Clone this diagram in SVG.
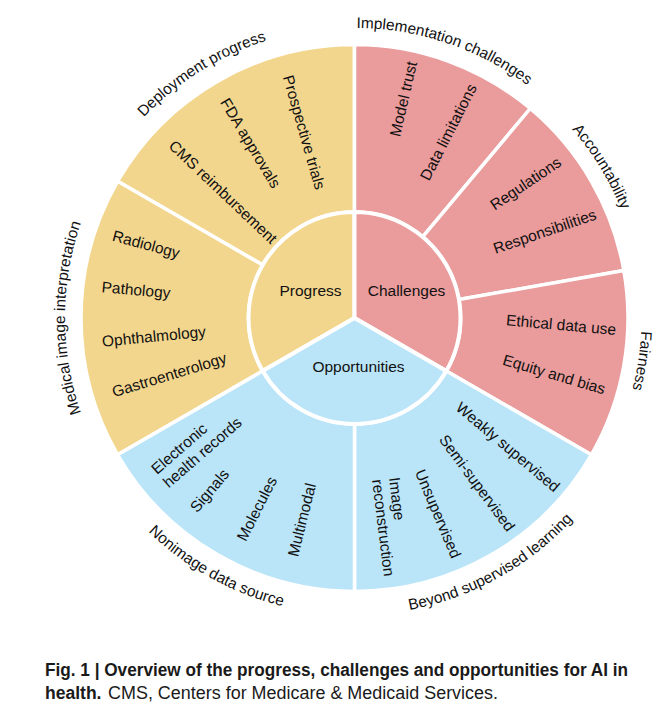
<svg xmlns="http://www.w3.org/2000/svg" width="668" height="714" viewBox="0 0 668 714">
<style>
.y{fill:#F3D68D}.p{fill:#EA9B9B}.b{fill:#BAE4F8}
.seg{stroke:#fff;stroke-width:3.5;stroke-linejoin:round}
.core{stroke:#fff;stroke-width:4;stroke-linejoin:round}
text{font-family:"Liberation Sans",Arial,sans-serif;fill:#111}
.it{font-size:15.5px;text-anchor:middle}
.it2{font-size:15.5px}
.ctr{font-size:15.5px;text-anchor:middle}
.lab{font-size:15.4px;text-anchor:middle}
.cap{font-size:17.5px;fill:#1a1a1a}
</style>
<defs>
<path id="aDep" d="M77.74,228.08 A291,291 0 0 1 395,29.83"/>
<path id="aImp" d="M248.21,48.18 A290,290 0 0 1 601.77,166.47"/>
<path id="aAcc" d="M445.88,44.88 A288,288 0 0 1 639.34,360.57"/>
<path id="aFai" d="M599.21,168.04 A287,287 0 0 1 544.67,532.95"/>
<path id="aMed" d="M132.73,504.09 A289.5,289.5 0 0 1 132.73,131.91"/>
<path id="aNon" d="M77.23,424.44 A297,297 0 0 0 411.17,609.54"/>
<path id="aBey" d="M297.83,609.54 A297,297 0 0 0 631.77,424.44"/>
</defs>
<rect width="668" height="714" fill="#fff"/>

<g id="deployment-progress">
<path class="seg y" d="M117.64,181.25 A273.5,273.5 0 0 1 354.5,44.5 L354.5,212 A106,106 0 0 0 262.7,265 Z"/>
<text class="lab"><textPath href="#aDep" startOffset="50%">Deployment progress</textPath></text>
<text class="it" dy=".3em" transform="translate(303.5,132.5) rotate(74)">Prospective trials</text>
<text class="it" dy=".3em" transform="translate(250,143.5) rotate(59)">FDA approvals</text>
<text class="it" dy=".3em" transform="translate(222.5,192.5) rotate(43.5)">CMS reimbursement</text>
</g>

<g id="medical-image-interpretation">
<path class="seg y" d="M117.64,454.75 A273.5,273.5 0 0 1 117.64,181.25 L262.7,265 A106,106 0 0 0 262.7,371 Z"/>
<text class="lab"><textPath href="#aMed" startOffset="50%">Medical image interpretation</textPath></text>
<text class="it" dy=".3em" transform="translate(146,245) rotate(15)">Radiology</text>
<text class="it" dy=".3em" transform="translate(136,290.5) rotate(5)">Pathology</text>
<text class="it" dy=".3em" transform="translate(154,337) rotate(-5.5)">Ophthalmology</text>
<text class="it" dy=".3em" transform="translate(169.5,375.5) rotate(-17)">Gastroenterology</text>
</g>

<g id="implementation-challenges">
<path class="seg p" d="M354.5,44.5 A273.5,273.5 0 0 1 530.3,108.5 L422.64,236.8 A106,106 0 0 0 354.5,212 Z"/>
<text class="lab"><textPath href="#aImp" startOffset="50%">Implementation challenges</textPath></text>
<text class="it" dy=".3em" transform="translate(404,99) rotate(-77)">Model trust</text>
<text class="it" dy=".3em" transform="translate(449,132.5) rotate(-63)">Data limitations</text>
</g>

<g id="accountability">
<path class="seg p" d="M530.3,108.5 A273.5,273.5 0 0 1 623.84,270.51 L458.89,299.59 A106,106 0 0 0 422.64,236.8 Z"/>
<text class="lab"><textPath href="#aAcc" startOffset="50%">Accountability</textPath></text>
<text class="it" dy=".3em" transform="translate(526,184) rotate(-34)">Regulations</text>
<text class="it" dy=".3em" transform="translate(545,232) rotate(-19)">Responsibilities</text>
</g>

<g id="fairness">
<path class="seg p" d="M623.84,270.51 A273.5,273.5 0 0 1 591.36,454.75 L446.3,371 A106,106 0 0 0 458.89,299.59 Z"/>
<text class="lab"><textPath href="#aFai" startOffset="50%">Fairness</textPath></text>
<text class="it" dy=".3em" transform="translate(561,325.5) rotate(5)">Ethical data use</text>
<text class="it" dy=".3em" transform="translate(554,375) rotate(16.5)">Equity and bias</text>
</g>

<g id="beyond-supervised-learning">
<path class="seg b" d="M591.36,454.75 A273.5,273.5 0 0 1 354.5,591.5 L354.5,424 A106,106 0 0 0 446.3,371 Z"/>
<text class="lab"><textPath href="#aBey" startOffset="50%">Beyond supervised learning</textPath></text>
<text class="it" dy=".3em" transform="translate(507.5,447.5) rotate(40)">Weakly supervised</text>
<text class="it" dy=".3em" transform="translate(476.5,483.5) rotate(53.5)">Semi-supervised</text>
<text class="it" dy=".3em" transform="translate(437.5,514) rotate(67)">Unsupervised</text>
<text class="it2" transform="translate(389,478) rotate(83)">Image</text>
<text class="it2" transform="translate(372.1,480.1) rotate(83)">reconstruction</text>
</g>

<g id="nonimage-data-source">
<path class="seg b" d="M354.5,591.5 A273.5,273.5 0 0 1 117.64,454.75 L262.7,371 A106,106 0 0 0 354.5,424 Z"/>
<text class="lab"><textPath href="#aNon" startOffset="50%">Nonimage data source</textPath></text>
<text class="it2" transform="translate(157,475) rotate(-41)">Electronic</text>
<text class="it2" transform="translate(168.8,488.6) rotate(-41)">health records</text>
<text class="it" dy=".3em" transform="translate(210,491) rotate(-50)">Signals</text>
<text class="it" dy=".3em" transform="translate(257.5,509) rotate(-63)">Molecules</text>
<text class="it" dy=".3em" transform="translate(302.5,520) rotate(-76)">Multimodal</text>
</g>

<g id="progress">
<path class="core y" d="M354.5,318 L262.7,371 A106,106 0 0 1 354.5,212 Z"/>
<text class="ctr" x="310.5" y="296">Progress</text>
</g>
<g id="challenges">
<path class="core p" d="M354.5,318 L354.5,212 A106,106 0 0 1 446.3,371 Z"/>
<text class="ctr" x="406.5" y="296">Challenges</text>
</g>
<g id="opportunities">
<path class="core b" d="M354.5,318 L446.3,371 A106,106 0 0 1 262.7,371 Z"/>
<text class="ctr" x="358.5" y="372">Opportunities</text>
</g>

<g id="connectors"></g>

<g id="caption">
<text class="cap" x="45" y="676" font-weight="bold" textLength="583" lengthAdjust="spacingAndGlyphs">Fig. 1 | Overview of the progress, challenges and opportunities for AI in</text>
<text class="cap" x="45" y="699" font-weight="bold" textLength="56.5" lengthAdjust="spacingAndGlyphs">health.</text>
<text class="cap" x="108" y="699" textLength="390" lengthAdjust="spacingAndGlyphs">CMS, Centers for Medicare &amp; Medicaid Services.</text>
</g>
</svg>
